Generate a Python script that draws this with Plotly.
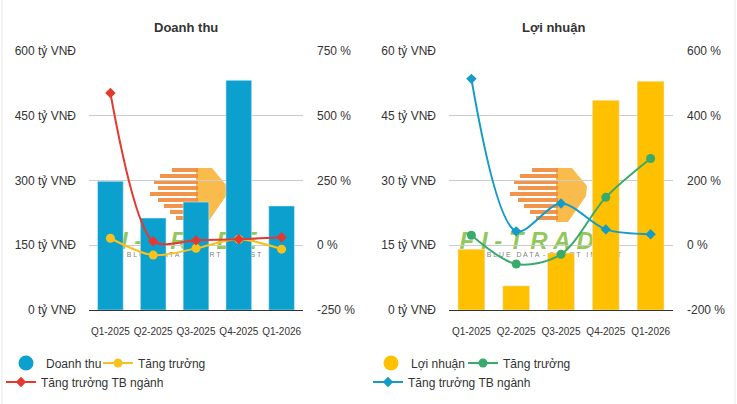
import plotly.graph_objects as go

categories = ["Q1-2025", "Q2-2025", "Q3-2025", "Q4-2025", "Q1-2026"]

doanh_thu = [298, 213, 250, 532, 241]
dt_tang_truong = [27, -38, -12, 23, -15]
dt_tb_nganh = [588, 15, 19, 23, 31]

loi_nhuan = [14.1, 5.6, 13.2, 48.6, 53.0]
ln_tang_truong = [31, -58, -28, 148, 268]
ln_tb_nganh = [514, 43, 129, 49, 34]

dt_value_ticks = [0, 150, 300, 450, 600]
dt_value_labels = ["0 tỷ VNĐ", "150 tỷ VNĐ", "300 tỷ VNĐ", "450 tỷ VNĐ", "600 tỷ VNĐ"]
dt_pct_ticks = [-250, 0, 250, 500, 750]
dt_pct_labels = ["-250 %", "0 %", "250 %", "500 %", "750 %"]
ln_value_ticks = [0, 15, 30, 45, 60]
ln_value_labels = ["0 tỷ VNĐ", "15 tỷ VNĐ", "30 tỷ VNĐ", "45 tỷ VNĐ", "60 tỷ VNĐ"]
ln_pct_ticks = [-200, 0, 200, 400, 600]
ln_pct_labels = ["-200 %", "0 %", "200 %", "400 %", "600 %"]

C_BLUE_BAR = "#0ca0cf"
C_YELLOW_LINE = "#f8c21c"
C_RED = "#e5392f"
C_YELLOW_BAR = "#ffc000"
C_GREEN = "#3aaa6a"
C_BLUE_LINE = "#159bc8"
FONT = "Arial, Liberation Sans, sans-serif"
TXT = "#333333"

W, H = 737, 404
def px_x(x):
    return x / W
def px_y(y):
    return 1 - y / H

fig = go.Figure()

# Left panel
fig.add_trace(go.Bar(x=categories, y=doanh_thu, marker_color=C_BLUE_BAR, width=0.6,
                     xaxis="x", yaxis="y", showlegend=False, hoverinfo="skip"))
fig.add_trace(go.Scatter(x=categories, y=dt_tang_truong, mode="lines+markers",
                         line=dict(color=C_YELLOW_LINE, width=2, shape="spline", smoothing=0.9),
                         marker=dict(symbol="circle", size=9, color=C_YELLOW_LINE),
                         xaxis="x", yaxis="y2", name="Tăng trưởng", legend="legend2"))
fig.add_trace(go.Scatter(x=categories, y=dt_tb_nganh, mode="lines+markers",
                         line=dict(color=C_RED, width=2, shape="spline", smoothing=0.8),
                         marker=dict(symbol="diamond", size=8, color=C_RED),
                         xaxis="x", yaxis="y2", name="Tăng trưởng TB ngành", legend="legend3"))

# Right panel
fig.add_trace(go.Bar(x=categories, y=loi_nhuan, marker_color=C_YELLOW_BAR, width=0.6,
                     xaxis="x2", yaxis="y3", showlegend=False, hoverinfo="skip"))
fig.add_trace(go.Scatter(x=categories, y=ln_tang_truong, mode="lines+markers",
                         line=dict(color=C_GREEN, width=2, shape="spline", smoothing=0.9),
                         marker=dict(symbol="circle", size=9, color=C_GREEN),
                         xaxis="x2", yaxis="y4", name="Tăng trưởng", legend="legend5"))
fig.add_trace(go.Scatter(x=categories, y=ln_tb_nganh, mode="lines+markers",
                         line=dict(color=C_BLUE_LINE, width=2, shape="spline", smoothing=0.9),
                         marker=dict(symbol="diamond", size=8, color=C_BLUE_LINE),
                         xaxis="x2", yaxis="y4", name="Tăng trưởng TB ngành", legend="legend6"))

# Legend-only circle markers for bars
fig.add_trace(go.Scatter(x=[None], y=[None], mode="markers", name="Doanh thu",
                         marker=dict(symbol="circle", size=15, color=C_BLUE_BAR),
                         xaxis="x", yaxis="y", legend="legend"))
fig.add_trace(go.Scatter(x=[None], y=[None], mode="markers", name="Lợi nhuận",
                         marker=dict(symbol="circle", size=15, color=C_YELLOW_BAR),
                         xaxis="x2", yaxis="y3", legend="legend4"))

PLOT_TOP, PLOT_BOT = 51, 310
L0, L1 = 89, 303
R0, R1 = 449, 673
ydom = [px_y(PLOT_BOT), px_y(PLOT_TOP)]
xdomL = [px_x(L0), px_x(L1)]
xdomR = [px_x(R0), px_x(R1)]

tickfont = dict(family=FONT, size=12, color=TXT)
xtickfont = dict(family=FONT, size=10, color=TXT)

def yax(rng, tv, tt, side, anchor, overlaying=None, grid=True, standoff=12):
    d = dict(range=rng, tickmode="array", tickvals=tv, ticktext=tt, side=side, anchor=anchor,
             domain=ydom, showgrid=grid, gridcolor="#cccccc", gridwidth=1,
             zeroline=False, showline=False, tickfont=tickfont, ticklabelstandoff=standoff,
             fixedrange=True)
    if overlaying:
        d["overlaying"] = overlaying
    return d

def leg(xpx, ypx):
    return dict(orientation="h", x=px_x(xpx), y=px_y(ypx), xanchor="left", yanchor="middle",
                font=dict(family=FONT, size=12, color=TXT), itemwidth=30,
                bgcolor="rgba(0,0,0,0)", borderwidth=0)

# Watermark (logo) shapes, drawn below the traces
shapes = []
def logo(xref, yref, p0, p1):
    def fx(px):
        return (px - p0) / (p1 - p0)
    def fy(py):
        return (PLOT_BOT - py) / (PLOT_BOT - PLOT_TOP)
    off = p0 - L0
    def X(px):
        return fx(px + off)
    pts = [(196, 168), (212, 168), (227, 186), (226, 196), (208, 222), (196, 222)]
    path = "M " + " L ".join(f"{X(a):.4f},{fy(b):.4f}" for a, b in pts) + " Z"
    shapes.append(dict(type="path", path=path, xref=xref + " domain", yref=yref + " domain",
                       fillcolor="#f9b43a", line=dict(width=0), layer="below", opacity=0.9))
    stripes = [(168, 172, 198), (174, 160, 198), (180, 154, 198), (186, 158, 198),
               (192, 150, 198), (198, 158, 198), (204, 164, 198), (210, 170, 198),
               (216, 176, 198)]
    for yy, xa, xb in stripes:
        shapes.append(dict(type="rect", x0=X(xa), x1=X(xb), y0=fy(yy + 4), y1=fy(yy),
                           xref=xref + " domain", yref=yref + " domain",
                           fillcolor="#ef8a3a", line=dict(width=0), layer="below", opacity=0.9))
    shapes.append(dict(type="rect", x0=X(80), x1=X(276), y0=fy(250), y1=fy(226),
                       xref=xref + " domain", yref=yref + " domain",
                       fillcolor="rgba(0,0,0,0)", line=dict(width=0), layer="below",
                       label=dict(text="<b><i>F I - T R A D E</i></b>",
                                  textposition="middle center",
                                  font=dict(family=FONT, size=24, color="rgba(125,190,60,0.85)"))))
    shapes.append(dict(type="rect", x0=X(120), x1=X(268), y0=fy(258), y1=fy(249),
                       xref=xref + " domain", yref=yref + " domain",
                       fillcolor="rgba(0,0,0,0)", line=dict(width=0), layer="below",
                       label=dict(text="B L U E   D A T A  -  S M A R T   I N V E S T",
                                  textposition="middle center",
                                  font=dict(family=FONT, size=7, color="rgba(90,90,90,0.8)"))))

logo("x", "y", L0, L1)
logo("x2", "y3", R0, R1)

# faint page edges
for xe in (2, 735):
    shapes.append(dict(type="line", xref="paper", yref="paper", x0=px_x(xe), x1=px_x(xe),
                       y0=0, y1=1, line=dict(color="#e8e8e8", width=1), layer="below"))

fig.update_layout(
    width=W, height=H,
    margin=dict(l=0, r=0, t=0, b=0, autoexpand=False),
    paper_bgcolor="white", plot_bgcolor="white",
    font=dict(family=FONT, color=TXT),
    xaxis=dict(domain=xdomL, anchor="y", showline=True, linecolor="#333333", linewidth=1,
               tickfont=xtickfont, ticks="", tickangle=0, ticklabelstandoff=12, showgrid=False,
               fixedrange=True),
    xaxis2=dict(domain=xdomR, anchor="y3", showline=True, linecolor="#333333", linewidth=1,
                tickfont=xtickfont, ticks="", tickangle=0, ticklabelstandoff=12, showgrid=False,
                fixedrange=True),
    yaxis=yax([0, 600], dt_value_ticks, dt_value_labels, "left", "x"),
    yaxis2=yax([-250, 750], dt_pct_ticks, dt_pct_labels, "right", "x", overlaying="y",
               grid=False, standoff=13),
    yaxis3=yax([0, 60], ln_value_ticks, ln_value_labels, "left", "x2"),
    yaxis4=yax([-200, 600], ln_pct_ticks, ln_pct_labels, "right", "x2", overlaying="y3",
               grid=False, standoff=13),
    legend=leg(6, 363),
    legend2=leg(98, 363),
    legend3=leg(1, 382),
    legend4=leg(371, 363),
    legend5=leg(463, 363),
    legend6=leg(368, 382),
    shapes=shapes,
    annotations=[
        dict(text="<b>Doanh thu</b>", x=px_x(186), y=px_y(27), xref="paper", yref="paper",
             xanchor="center", yanchor="middle",
             showarrow=False, font=dict(family=FONT, size=13, color=TXT)),
        dict(text="<b>Lợi nhuận</b>", x=px_x(553), y=px_y(27), xref="paper", yref="paper",
             xanchor="center", yanchor="middle",
             showarrow=False, font=dict(family=FONT, size=13, color=TXT)),
    ],
)

fig.write_html("out.html")
